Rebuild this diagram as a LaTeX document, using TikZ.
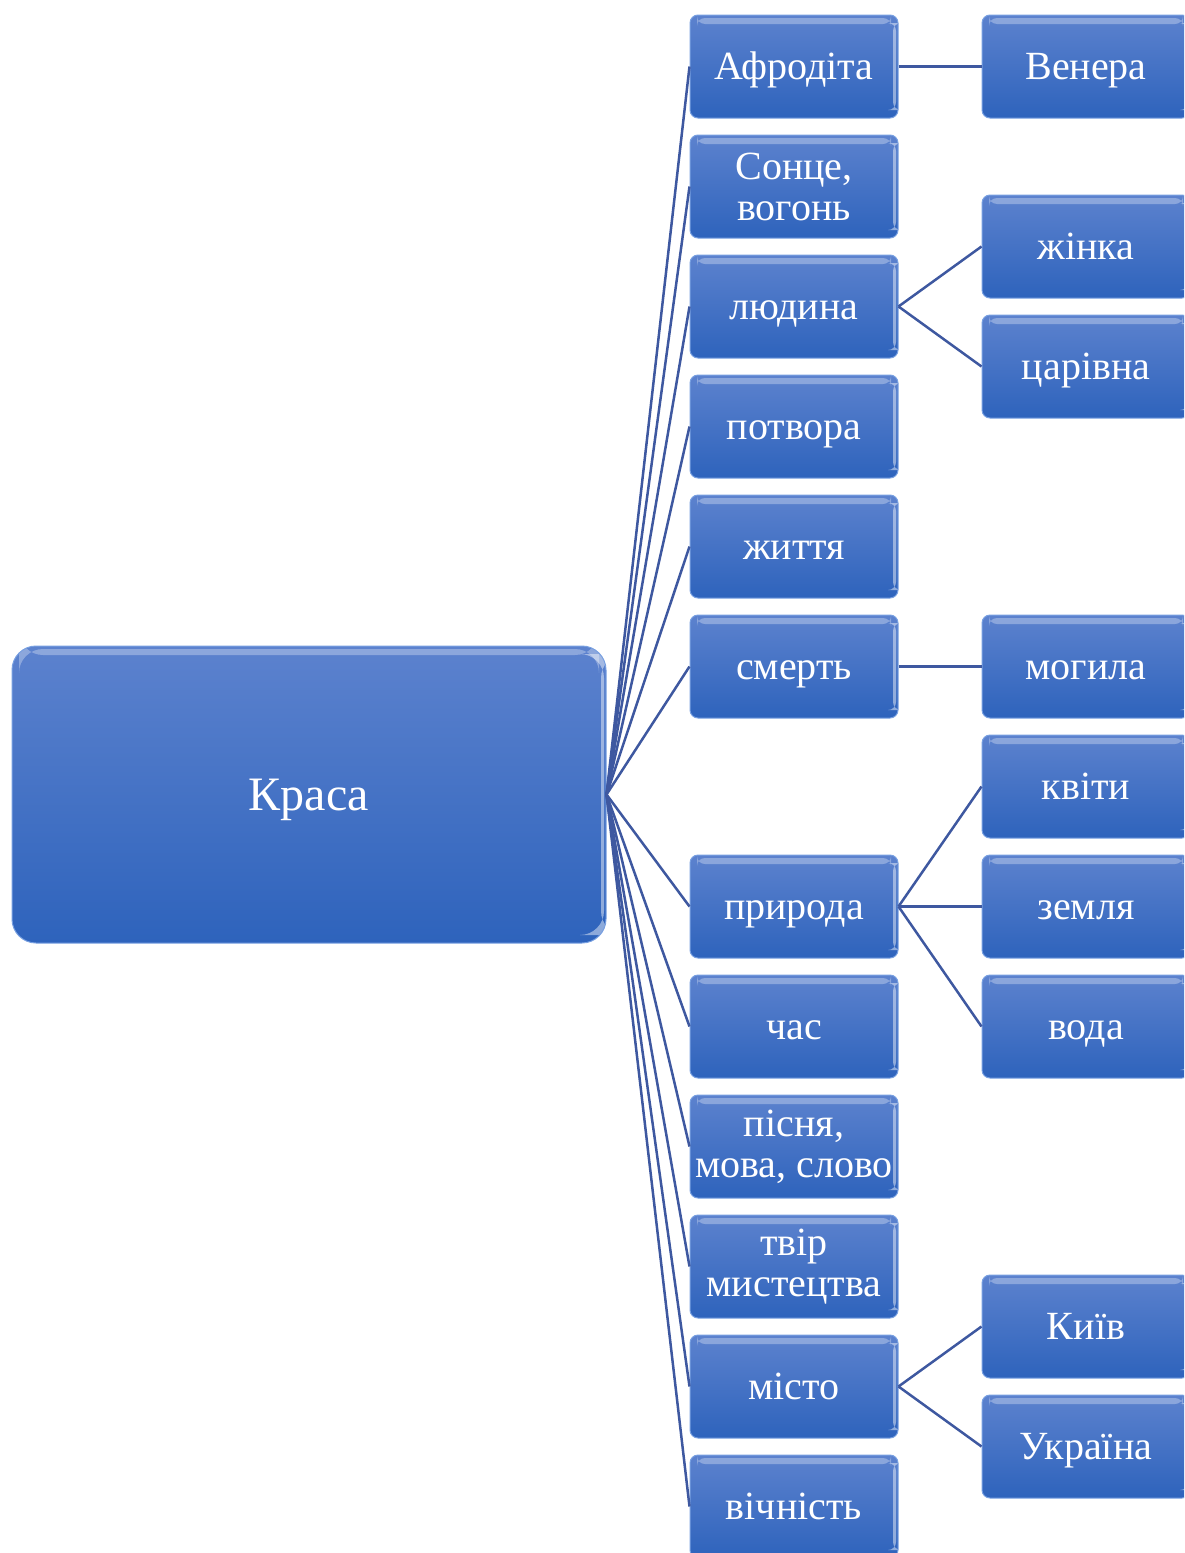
\documentclass[tikz,border=0pt]{standalone}
\usepackage{fontspec}
\setmainfont{Liberation Serif}
\definecolor{boxtop}{RGB}{92,130,206}
\definecolor{boxbot}{RGB}{46,99,188}
\definecolor{boxedge}{RGB}{120,160,225}
\definecolor{linkc}{RGB}{62,88,160}
\tikzset{
  gloss/.style={path picture={
      \fill[white,opacity=.30]
        ([xshift=7pt,yshift=-3pt]path picture bounding box.north west) rectangle
        ([xshift=-7pt,yshift=-9pt]path picture bounding box.north east);
      \fill[white,opacity=.45]
        ([xshift=-5pt,yshift=-8pt]path picture bounding box.north east) rectangle
        ([xshift=-2pt,yshift=8pt]path picture bounding box.south east);}},
  card/.style={rounded corners=8pt, top color=boxtop, bottom color=boxbot,
    draw=boxedge, line width=1pt, text=white, align=center, inner sep=0pt,
    minimum width=208pt, minimum height=103pt,
    font=\fontsize{40}{41}\selectfont, gloss},
  % single-line labels: capitals centred on the box
  oneline/.style={text height=36pt, text depth=9.5pt},
  rootcard/.style={card, rounded corners=24pt, minimum width=594pt,
    minimum height=297pt, font=\fontsize{48}{52}\selectfont,
    text height=43pt, text depth=11.2pt},
  link/.style={draw=linkc, line width=2.5pt}
}
\begin{document}
\begin{tikzpicture}[x=1pt,y=-1pt]
\useasboundingbox (0,0) rectangle (1184,1553);
\clip (0,0) rectangle (1184,1553);
% central box
\node[rootcard] (root) at (309,794.5) {Краса};
% first level
\node[card,oneline] (c0)  at (794,66.5)   {Афродіта};
\node[card] (c1)  at (794,186.5)  {Сонце,\\вогонь};
\node[card,oneline] (c2)  at (794,306.5)  {людина};
\node[card,oneline] (c3)  at (794,426.5)  {потвора};
\node[card,oneline] (c4)  at (794,546.5)  {життя};
\node[card,oneline] (c5)  at (794,666.5)  {смерть};
\node[card,oneline] (c7)  at (794,906.5)  {природа};
\node[card,oneline] (c8)  at (794,1026.5) {час};
\node[card] (c9)  at (794,1146.5) {пісня,\\мова, слово};
\node[card] (c10) at (794,1266.5) {твір\\мистецтва};
\node[card,oneline] (c11) at (794,1386.5) {місто};
\node[card,oneline] (c12) at (794,1506.5) {вічність};
% second level
\node[card,oneline] (g0) at (1086,66.5)   {Венера};
\node[card,oneline] (g1) at (1086,246.5)  {жінка};
\node[card,oneline] (g2) at (1086,366.5)  {царівна};
\node[card,oneline] (g3) at (1086,666.5)  {могила};
\node[card,oneline] (g4) at (1086,786.5)  {квіти};
\node[card,oneline] (g5) at (1086,906.5)  {земля};
\node[card,oneline] (g6) at (1086,1026.5) {вода};
\node[card,oneline] (g7) at (1086,1326.5) {Київ};
\node[card,oneline] (g8) at (1086,1446.5) {Україна};
% connectors
\foreach \c in {c0,c1,c2,c3,c4,c5,c7,c8,c9,c10,c11,c12}
  \draw[link] (root.east) -- (\c.west);
\draw[link] (c0.east) -- (g0.west);
\draw[link] (c2.east) -- (g1.west);
\draw[link] (c2.east) -- (g2.west);
\draw[link] (c5.east) -- (g3.west);
\draw[link] (c7.east) -- (g4.west);
\draw[link] (c7.east) -- (g5.west);
\draw[link] (c7.east) -- (g6.west);
\draw[link] (c11.east) -- (g7.west);
\draw[link] (c11.east) -- (g8.west);
\end{tikzpicture}
\end{document}
